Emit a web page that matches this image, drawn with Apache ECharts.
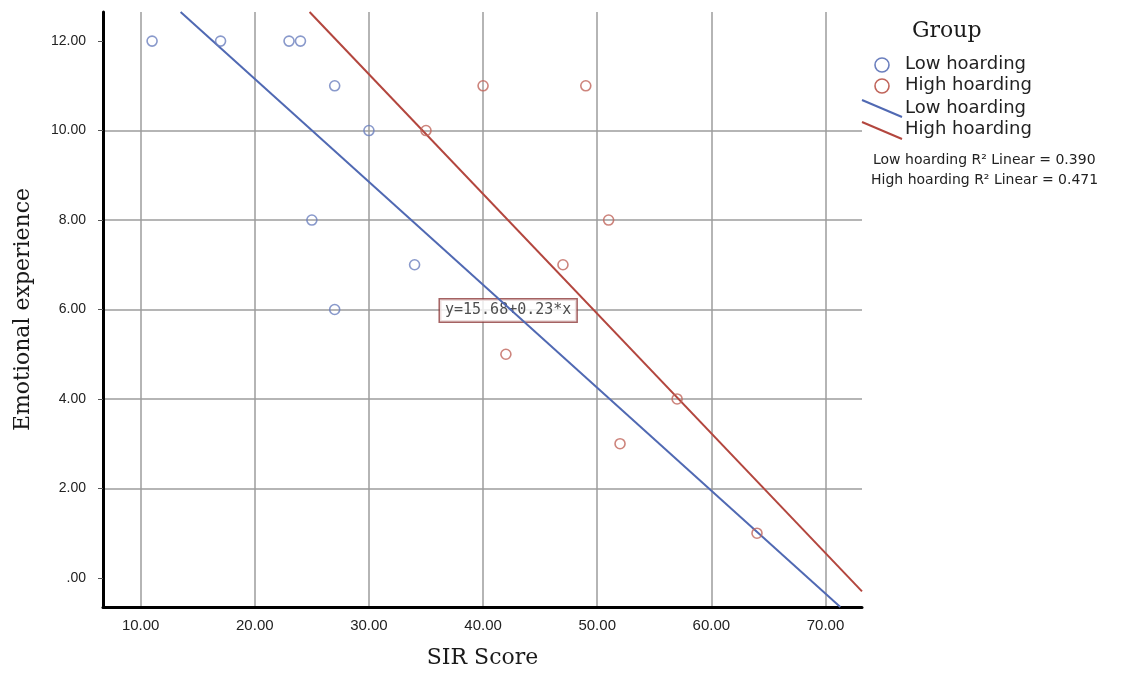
<!DOCTYPE html>
<html>
<head>
<meta charset="utf-8">
<script src="https://cdn.jsdelivr.net/npm/echarts@6/dist/echarts.min.js"></script>
<style>
  html, body { margin: 0; padding: 0; background: #fff; }
  #chart { width: 1126px; height: 680px; }
</style>
</head>
<body>
<div id="chart"></div>
<script>
// data
const lowX = [11, 17, 23, 24, 27, 30, 25, 34, 27];
const lowY = [12, 12, 12, 12, 11, 10, 8, 7, 6];
const highX = [40, 49, 35, 51, 47, 42, 57, 52, 64];
const highY = [11, 11, 10, 8, 7, 5, 4, 3, 1];
// fit line end points (as drawn)
const lowFit = [[13.5, 12.65], [71.3, -0.65]];
const highFit = [[24.8, 12.65], [73.2, -0.3]];
const xTicks = [10, 20, 30, 40, 50, 60, 70];
const yTicks = [0, 2, 4, 6, 8, 10, 12];
const groupNames = ['Low hoarding', 'High hoarding'];
const r2Texts = ['Low hoarding R\u00b2 Linear = 0.390', 'High hoarding R\u00b2 Linear = 0.471'];
const fitLabel = 'y=15.68+0.23*x';
const fitLabelAt = [42.2, 5.98];

const blueLine = '#5069b3';
const redLine = '#b3463e';
const blueDot = '#6b7fbe';
const redDot = '#c0655b';

function fmt(v) {
  let s = Number(v).toFixed(2);
  if (s.indexOf('0.') === 0) s = s.slice(1);
  return s;
}

const chart = echarts.init(document.getElementById('chart'));

const option = {
  backgroundColor: '#fff',
  animation: false,
  grid: { left: 103, right: 264, top: 12, bottom: 73 },
  xAxis: {
    type: 'value',
    min: 6.7,
    max: 73.2,
    minInterval: 10,
    maxInterval: 10,
    name: 'SIR Score',
    nameLocation: 'middle',
    nameGap: 40,
    nameTextStyle: { fontFamily: 'DejaVu Serif', fontSize: 22, color: '#1a1a1a' },
    axisLine: { onZero: false, lineStyle: { color: '#000', width: 3 } },
    axisTick: { show: false },
    axisLabel: {
      customValues: xTicks,
      formatter: fmt,
      margin: 11,
      fontFamily: 'Liberation Sans',
      fontSize: 15,
      color: '#222'
    },
    splitLine: { show: true, showMinLine: false, showMaxLine: false, lineStyle: { color: '#9c9c9c', width: 1.5 } }
  },
  yAxis: {
    type: 'value',
    min: -0.65,
    max: 12.65,
    minInterval: 2,
    maxInterval: 2,
    name: 'Emotional experience',
    nameLocation: 'middle',
    nameGap: 69,
    nameTextStyle: { fontFamily: 'DejaVu Serif', fontSize: 22, color: '#1a1a1a' },
    axisLine: { show: true, onZero: false, lineStyle: { color: '#000', width: 3 } },
    axisTick: { show: true, customValues: yTicks, length: 5, lineStyle: { color: '#555' } },
    axisLabel: {
      customValues: yTicks,
      formatter: fmt,
      margin: 17,
      fontFamily: 'Liberation Sans',
      fontSize: 14,
      color: '#222'
    },
    splitLine: { show: true, showMinLine: false, showMaxLine: false, lineStyle: { color: '#9c9c9c', width: 1.5 } }
  },
  series: [
    {
      name: 'fitLabel',
      type: 'scatter',
      z: 1,
      symbolSize: 0,
      data: [fitLabelAt],
      label: {
        show: true,
        position: 'inside',
        formatter: fitLabel,
        fontFamily: 'DejaVu Sans Mono',
        fontSize: 15,
        color: '#222',
        backgroundColor: '#fff',
        borderColor: '#8e3b3b',
        borderWidth: 1.5,
        padding: [4, 5, 3, 5]
      },
      silent: true
    },
    {
      name: groupNames[0],
      type: 'scatter',
      z: 3,
      symbol: 'circle',
      symbolSize: 10,
      itemStyle: { color: 'rgba(0,0,0,0)', borderColor: blueDot, borderWidth: 1.6 },
      data: lowX.map((x, i) => [x, lowY[i]])
    },
    {
      name: groupNames[1],
      type: 'scatter',
      z: 3,
      symbol: 'circle',
      symbolSize: 10,
      itemStyle: { color: 'rgba(0,0,0,0)', borderColor: redDot, borderWidth: 1.6 },
      data: highX.map((x, i) => [x, highY[i]])
    },
    {
      name: groupNames[0] + ' fit',
      type: 'line',
      z: 2,
      symbol: 'none',
      lineStyle: { color: blueLine, width: 2 },
      data: lowFit
    },
    {
      name: groupNames[1] + ' fit',
      type: 'line',
      z: 2,
      symbol: 'none',
      lineStyle: { color: redLine, width: 2 },
      data: highFit
    }
  ],
  graphic: [
    { type: 'text', left: 912, top: 20, style: { text: 'Group', font: '22px "DejaVu Serif"', fill: '#1a1a1a' } },
    { type: 'circle', shape: { cx: 882, cy: 65, r: 7 }, style: { fill: 'none', stroke: blueDot, lineWidth: 1.6 } },
    { type: 'text', left: 905, top: 55, style: { text: groupNames[0], font: '18px "DejaVu Sans"', fill: '#222' } },
    { type: 'circle', shape: { cx: 882, cy: 86, r: 7 }, style: { fill: 'none', stroke: redDot, lineWidth: 1.6 } },
    { type: 'text', left: 905, top: 76, style: { text: groupNames[1], font: '18px "DejaVu Sans"', fill: '#222' } },
    { type: 'line', shape: { x1: 862, y1: 100, x2: 902, y2: 117 }, style: { stroke: blueLine, lineWidth: 2 } },
    { type: 'text', left: 905, top: 99, style: { text: groupNames[0], font: '18px "DejaVu Sans"', fill: '#222' } },
    { type: 'line', shape: { x1: 862, y1: 122, x2: 902, y2: 139 }, style: { stroke: redLine, lineWidth: 2 } },
    { type: 'text', left: 905, top: 120, style: { text: groupNames[1], font: '18px "DejaVu Sans"', fill: '#222' } },
    { type: 'text', left: 873, top: 153, style: { text: r2Texts[0], font: '14px "DejaVu Sans"', fill: '#222' } },
    { type: 'text', left: 871, top: 173, style: { text: r2Texts[1], font: '14px "DejaVu Sans"', fill: '#222' } }
  ]
};

chart.setOption(option);
</script>
</body>
</html>
